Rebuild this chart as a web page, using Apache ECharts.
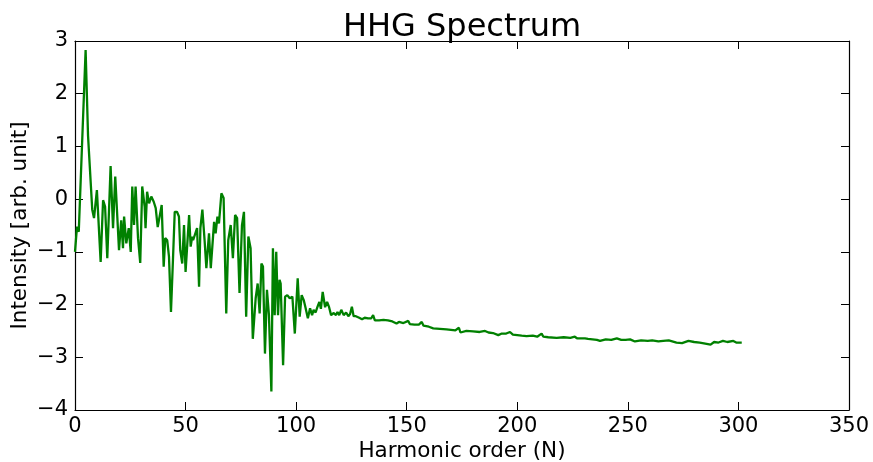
<!DOCTYPE html>
<html>
<head>
<meta charset="utf-8">
<script src="https://cdn.jsdelivr.net/npm/echarts@6/dist/echarts.min.js"></script>
<style>
html,body{margin:0;padding:0;background:#fff;}
#chart{width:873px;height:462px;}
</style>
</head>
<body>
<div id="chart"></div>
<script>
// Harmonic order (N) and intensity (arb. unit)
var harmonicOrder = [
  0, 0.9, 1.7, 4.8, 5.9, 7.8, 8.6, 9.9, 11.6, 12.7, 13.6, 14.6, 16.1, 17.2, 18.2, 19.9,
  20.9, 21.7, 22.2, 23.2, 24.3, 25.2, 25.9, 26.7, 27.4, 28.5, 29.5, 30.4, 31.5, 31.9, 32.6,
  33.5, 34.5, 35.6, 36.5, 37.4, 38.3, 39.2, 40.1, 40.8, 41.7, 42.5, 43.4, 44.3, 45.1, 46.1,
  47.0, 47.6, 48.5, 49.3, 50.0, 50.7, 51.6, 52.3, 53.0, 53.4, 55.2, 56.1, 56.7, 57.6, 58.6,
  59.4, 60.6, 61.4, 62.1, 62.9, 63.6, 64.4, 65.1, 66.2, 67.2, 68.4, 69.3, 70.4, 71.4, 72.4,
  73.3, 74.4, 75.5, 76.4, 77.4, 78.4, 79.4, 80.4, 81.7, 82.6, 83.5, 84.3, 85.0, 85.9, 86.8,
  87.7, 88.8, 89.5, 90.3, 91.0, 91.8, 92.5, 93.0, 94.1, 95.0, 96.0, 97.1, 98.3, 99.4, 100.7,
  101.6, 102.5, 103.4, 104.2, 105.3, 106.3, 107.2, 107.9, 108.8, 109.6, 110.5, 111.2, 112.0,
  113.1, 114.0, 114.9, 115.8, 117.0, 118.0, 118.7, 119.5, 120.4, 121.5, 122.6, 123.6, 124.4,
  125.2, 126.0, 127.0, 128.5, 129.8, 131.0, 132.5, 134.0, 134.8, 135.6, 137.5, 139.5, 141.5,
  143.5, 145.4, 146.5, 148.5, 150.7, 151.4, 153.5, 155.5, 156.8, 157.6, 160, 162, 165, 168,
  170, 172, 173.6, 174.3, 177, 180, 183, 185.4, 187, 189, 191.4, 193, 195, 196.7, 198, 200,
  202, 204.2, 207, 209, 211, 211.8, 214, 217.8, 221, 224, 226, 227, 229, 230.6, 232, 234, 236,
  237.4, 240, 242.5, 245, 247, 249, 251, 253.2, 256, 259, 261, 263.8, 266, 268.5, 272, 274.5,
  277.4, 280, 282.5, 285, 287.4, 289, 291, 293, 295, 297.7, 299, 301.5
];
var intensity = [
  -1.0, -0.52, -0.62, 2.83, 1.2, -0.2, -0.36, 0.17, -1.19, -0.02, -0.14, -1.12, 0.63, -0.55, 0.43, -0.97,
  -0.4, -0.93, -0.33, -0.84, -0.55, -1.0, 0.24, -0.49, 0.24, -0.74, -1.21, 0.24, -0.14, -0.55, 0.14,
  -0.08, 0.05, -0.05, -0.17, -0.53, -0.53, -0.11, -1.28, -0.74, -0.78, -1.09, -2.14, -1.15, -0.24, -0.24,
  -0.33, -0.97, -1.22, -0.49, -1.38, -1.36, -0.30, -0.9, -0.71, -0.78, -0.55, -1.66, -0.55, -0.2, -0.78,
  -1.31, -0.65, -1.31, -0.9, -0.43, -0.65, -0.33, -0.46, 0.11, 0.02, -2.17, -0.78, -0.49, -1.12, -0.30,
  -0.36, -1.78, -0.5, -0.24, -2.23, -0.71, -0.93, -2.65, -1.88, -1.6, -2.17, -1.22, -1.28, -2.93, -1.72,
  -2.2, -3.65, -0.93, -2.2, -1.0, -2.2, -1.53, -1.6, -3.15, -1.85, -1.82, -1.88, -1.85, -2.55, -1.5,
  -2.23, -1.82, -1.91, -2.05, -2.26, -2.07, -2.2, -2.1, -2.15, -2.05, -1.95, -2.08, -1.76,
  -2.05, -1.95, -2.05, -2.2, -2.16, -2.2, -2.14, -2.2, -2.1, -2.2, -2.15, -2.22, -2.18,
  -2.04, -2.22, -2.22, -2.25, -2.28, -2.25, -2.26, -2.26, -2.2, -2.3, -2.3, -2.29, -2.3,
  -2.32, -2.36, -2.33, -2.35, -2.31, -2.37, -2.38, -2.38, -2.33, -2.4, -2.42, -2.45, -2.46, -2.47,
  -2.48, -2.49, -2.44, -2.53, -2.5, -2.51, -2.52, -2.5, -2.53, -2.54, -2.58, -2.55, -2.55, -2.52, -2.57, -2.58,
  -2.59, -2.6, -2.59, -2.61, -2.55, -2.61, -2.62, -2.63, -2.62, -2.63, -2.61, -2.64, -2.64, -2.64, -2.65, -2.66, -2.67,
  -2.69, -2.66, -2.67, -2.64, -2.67, -2.67, -2.66, -2.7, -2.68, -2.69, -2.68, -2.7, -2.69, -2.68, -2.72, -2.73,
  -2.69, -2.71, -2.72, -2.74, -2.76, -2.71, -2.72, -2.69, -2.71, -2.69, -2.72, -2.72
];
var xTicks = [0, 50, 100, 150, 200, 250, 300, 350];
var yTicks = [-4, -3, -2, -1, 0, 1, 2, 3];

var pairs = harmonicOrder.map(function (x, i) { return [x, intensity[i]]; });
var FONT = 'DejaVu Sans';
function minus(v) { return String(v).replace('-', '\u2212'); }

var xMin = xTicks[0], xMax = xTicks[xTicks.length - 1], xInt = xTicks[1] - xTicks[0];
var yMin = yTicks[0], yMax = yTicks[yTicks.length - 1], yInt = yTicks[1] - yTicks[0];

var tickStyle = { show: true, inside: true, length: 8, lineStyle: { color: '#000', width: 1 } };
var lineStyle = { show: true, onZero: false, lineStyle: { color: '#000', width: 1.2 } };

var chart = echarts.init(document.getElementById('chart'), null, { renderer: 'canvas' });
chart.setOption({
  backgroundColor: '#fff',
  animation: false,
  title: {
    text: 'HHG Spectrum',
    left: 457, top: 7, textAlign: 'center',
    textStyle: { fontFamily: FONT, fontSize: 32, fontWeight: 'normal', color: '#000' }
  },
  grid: { left: 75, right: 24, top: 41, bottom: 52, containLabel: false, outerBoundsMode: 'none' },
  xAxis: [{
    type: 'value', min: xMin, max: xMax, interval: xInt, position: 'bottom',
    name: 'Harmonic order (N)', nameLocation: 'middle', nameGap: 30, nameMoveOverlap: false,
    nameTextStyle: { fontFamily: FONT, fontSize: 21.5, color: '#000' },
    axisLine: lineStyle, axisTick: tickStyle, splitLine: { show: false },
    axisLabel: { fontFamily: FONT, fontSize: 21, color: '#000', margin: 6, showMinLabel: true, showMaxLabel: true }
  }, {
    type: 'value', min: xMin, max: xMax, interval: xInt, position: 'top',
    axisLine: lineStyle, axisTick: tickStyle, splitLine: { show: false }, axisLabel: { show: false }
  }],
  yAxis: [{
    type: 'value', min: yMin, max: yMax, interval: yInt, position: 'left',
    name: 'Intensity [arb. unit]', nameLocation: 'middle', nameGap: 44, nameRotate: 90, nameMoveOverlap: false,
    nameTextStyle: { fontFamily: FONT, fontSize: 21.5, color: '#000' },
    axisLine: lineStyle, axisTick: tickStyle, splitLine: { show: false },
    axisLabel: { fontFamily: FONT, fontSize: 21, color: '#000', margin: 7, formatter: minus, showMinLabel: true, showMaxLabel: true }
  }, {
    type: 'value', min: yMin, max: yMax, interval: yInt, position: 'right',
    axisLine: lineStyle, axisTick: tickStyle, splitLine: { show: false }, axisLabel: { show: false }
  }],
  series: [{
    type: 'line', xAxisIndex: 0, yAxisIndex: 0, data: pairs,
    showSymbol: false, symbol: 'none',
    lineStyle: { color: '#008000', width: 2.3 },
    itemStyle: { color: '#008000' }
  }]
});
</script>
</body>
</html>
